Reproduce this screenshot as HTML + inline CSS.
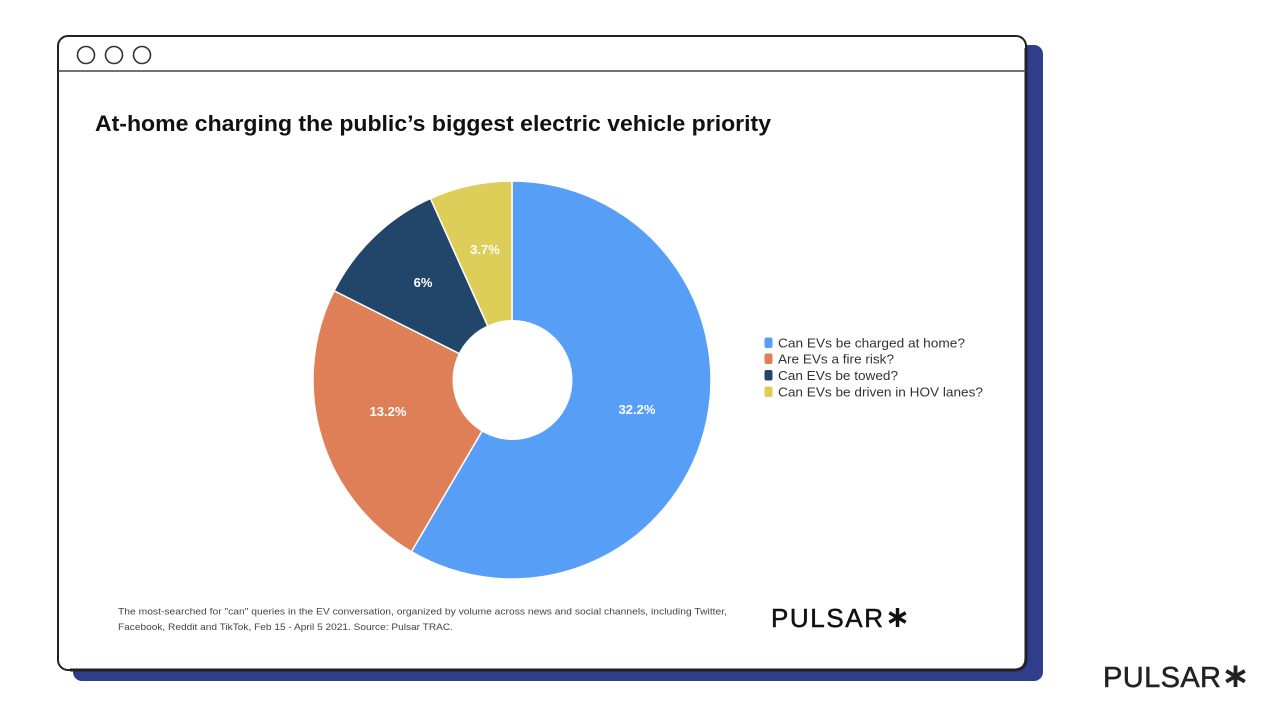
<!DOCTYPE html>
<html>
<head>
<meta charset="utf-8">
<style>
  html,body{margin:0;padding:0;background:#fff;}
  svg{display:block;}
</style>
</head>
<body>
<svg width="1280" height="715" viewBox="0 0 1280 715" xmlns="http://www.w3.org/2000/svg">
  <rect x="0" y="0" width="1280" height="715" fill="#ffffff"/>
  <!-- blue shadow -->
  <rect x="73" y="45" width="970" height="636" rx="9" ry="9" fill="#2F3D8A"/>
  <!-- window -->
  <rect x="58" y="36" width="968" height="634" rx="10" ry="10" fill="#ffffff" stroke="#222" stroke-width="2"/>
  <path d="M1026,48 L1026,658 Q1026,670 1014,670 L70,670" fill="none" stroke="#222" stroke-width="3"/>
  <!-- title bar separator -->
  <line x1="58" y1="71" x2="1026" y2="71" stroke="#444" stroke-width="1.6"/>
  <!-- circles -->
  <circle cx="86" cy="55" r="8.5" fill="none" stroke="#333" stroke-width="1.6"/>
  <circle cx="114" cy="55" r="8.5" fill="none" stroke="#333" stroke-width="1.6"/>
  <circle cx="142" cy="55" r="8.5" fill="none" stroke="#333" stroke-width="1.6"/>

  <!-- title -->
  <text x="95" y="131" font-family="Liberation Sans, sans-serif" font-size="22" font-weight="bold" fill="#111" textLength="676" lengthAdjust="spacingAndGlyphs">At-home charging the public’s biggest electric vehicle priority</text>

  <!-- pie -->
  <g stroke="#ffffff" stroke-width="1.5" stroke-linejoin="round">
    <path d="M512,380 L512,181 A199,199 0 1 1 411.4,551.7 Z" fill="#579EF7"/>
    <path d="M512,380 L411.4,551.7 A199,199 0 0 1 334.1,290.8 Z" fill="#DE7F57"/>
    <path d="M512,380 L334.1,290.8 A199,199 0 0 1 430.5,198.5 Z" fill="#224669"/>
    <path d="M512,380 L430.5,198.5 A199,199 0 0 1 512,181 Z" fill="#DDCE5A"/>
  </g>
  <circle cx="512.5" cy="380" r="60" fill="#ffffff"/>

  <g font-family="Liberation Sans, sans-serif" font-size="13" font-weight="bold" fill="#ffffff" text-anchor="middle">
    <text x="637" y="414">32.2%</text>
    <text x="388" y="416">13.2%</text>
    <text x="423" y="287">6%</text>
    <text x="485" y="254">3.7%</text>
  </g>

  <!-- legend -->
  <rect x="764.5" y="337.5" width="8" height="10.5" rx="2" fill="#579EF7"/>
  <rect x="764.5" y="353.5" width="8" height="10.5" rx="2" fill="#DE7F57"/>
  <rect x="764.5" y="370" width="8" height="10.5" rx="2" fill="#224669"/>
  <rect x="764.5" y="386.5" width="8" height="10.5" rx="2" fill="#DDCE5A"/>
  <g font-family="Liberation Sans, sans-serif" font-size="13" fill="#333">
    <text x="778" y="347.5" textLength="187" lengthAdjust="spacingAndGlyphs">Can EVs be charged at home?</text>
    <text x="778" y="363.5" textLength="116" lengthAdjust="spacingAndGlyphs">Are EVs a fire risk?</text>
    <text x="778" y="380" textLength="120" lengthAdjust="spacingAndGlyphs">Can EVs be towed?</text>
    <text x="778" y="396.5" textLength="205" lengthAdjust="spacingAndGlyphs">Can EVs be driven in HOV lanes?</text>
  </g>

  <!-- footnote -->
  <g font-family="Liberation Sans, sans-serif" font-size="9.5" fill="#444">
    <text x="118" y="614.5" textLength="609" lengthAdjust="spacingAndGlyphs">The most-searched for "can" queries in the EV conversation, organized by volume across news and social channels, including Twitter,</text>
    <text x="118" y="630" textLength="335" lengthAdjust="spacingAndGlyphs">Facebook, Reddit and TikTok, Feb 15 - April 5 2021. Source: Pulsar TRAC.</text>
  </g>

  <!-- inner logo -->
  <text x="771" y="627" font-family="Liberation Sans, sans-serif" font-size="26" fill="#111" stroke="#111" stroke-width="0.5" textLength="112" lengthAdjust="spacing">PULSAR</text>
  <g stroke="#111" stroke-width="3.4" stroke-linecap="butt">
    <line x1="897.5" y1="608" x2="897.5" y2="627"/>
    <line x1="889.3" y1="612.75" x2="905.7" y2="622.25"/>
    <line x1="889.3" y1="622.25" x2="905.7" y2="612.75"/>
  </g>

  <!-- outer logo -->
  <text x="1103" y="687" font-family="Liberation Sans, sans-serif" font-size="29" fill="#222" stroke="#222" stroke-width="0.5" textLength="118" lengthAdjust="spacing">PULSAR</text>
  <g stroke="#222" stroke-width="3.8" stroke-linecap="butt">
    <line x1="1235.5" y1="665.5" x2="1235.5" y2="687"/>
    <line x1="1226.2" y1="670.9" x2="1244.8" y2="681.6"/>
    <line x1="1226.2" y1="681.6" x2="1244.8" y2="670.9"/>
  </g>
</svg>
</body>
</html>
